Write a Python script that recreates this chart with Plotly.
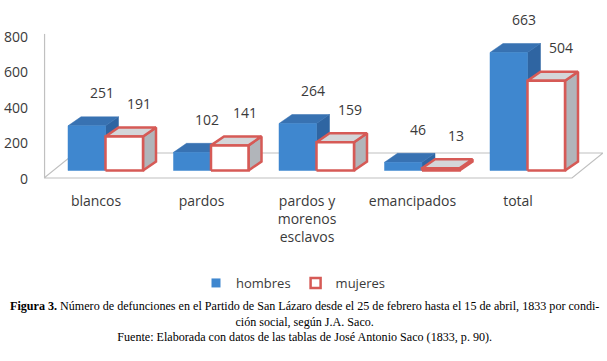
import plotly.graph_objects as go

# ---------------- data ----------------
categories = ["blancos", "pardos", "pardos y<br>morenos<br>esclavos", "emancipados", "total"]
hombres = [251, 102, 264, 46, 663]
mujeres = [191, 141, 159, 13, 504]
y_ticks = [0, 200, 400, 600, 800]
series_names = ["hombres", "mujeres"]

# ---------------- geometry / style ----------------
W, H = 607, 361
ML, MR, MT, MB = 44, 4, 0, 179
PX_X = 105.5           # px per category
PX_Y = 0.178           # px per value unit
X0_PX = 96 - ML        # px of first category from plot left
plot_w = W - ML - MR
plot_h = H - MT - MB
x_rng = [-X0_PX / PX_X, (plot_w - X0_PX) / PX_X]
y_rng = [-3 / PX_Y, (plot_h - 3) / PX_Y]

# bar plane (3D depth) offsets
PLANE_DX = 9.5 / PX_X
PLANE_DY = 8.5 / PX_Y
x2_rng = [x_rng[0] - PLANE_DX, x_rng[1] - PLANE_DX]
y2_rng = [y_rng[0] - PLANE_DY, y_rng[1] - PLANE_DY]

BAR_W = 37.5 / PX_X
DX = 13 / PX_X
DY = 9 / PX_Y

BLUE_FRONT = "#3f87cf"
BLUE_TOP = "#3872b2"
BLUE_SIDE = "#2f65a2"
RED = "#d65a56"
RED_TOP = "#d4d6d9"
RED_SIDE = "#b1b5ba"
TXT = "#3a3a3a"
FONT = "Open Sans"


def faces(values, left_off):
    fx, fy, tx, ty, sx, sy = [], [], [], [], [], []
    for i, v in enumerate(values):
        a = i + left_off
        b = a + BAR_W
        fx += [a, b, b, a, a, None]
        fy += [0, 0, v, v, 0, None]
        tx += [a, b, b + DX, a + DX, a, None]
        ty += [v, v, v + DY, v + DY, v, None]
        sx += [b, b + DX, b + DX, b, b, None]
        sy += [0, DY, v + DY, v, 0, None]
    return (fx, fy), (tx, ty), (sx, sy)


fig = go.Figure()

specs = [
    (hombres, -BAR_W, BLUE_FRONT, BLUE_TOP, BLUE_SIDE, None),
    (mujeres, 0.0, "white", RED_TOP, RED_SIDE, RED),
]
for vals, off, cf, ct, cs, lc in specs:
    front, top, side = faces(vals, off)
    for (xs, ys), col in ((side, cs), (top, ct), (front, cf)):
        fig.add_trace(go.Scatter(
            x=xs, y=ys, xaxis="x2", yaxis="y2", mode="lines", fill="toself",
            fillcolor=col,
            line=dict(color=lc if lc else col, width=2.5 if lc else 0.5),
            hoverinfo="skip", showlegend=False))

# data labels
for vals, off in ((hombres, -BAR_W), (mujeres, 0.0)):
    for i, v in enumerate(vals):
        fig.add_annotation(x=i + off + BAR_W / 2, y=v, xref="x2", yref="y2",
                           text=str(v), showarrow=False, xshift=15, yshift=33,
                           font=dict(family=FONT, size=14, color=TXT))

# legend entries
fig.add_trace(go.Scatter(x=[None], y=[None], mode="markers", name=series_names[0],
                         marker=dict(symbol="square", size=9, color=BLUE_FRONT)))
fig.add_trace(go.Scatter(x=[None], y=[None], mode="markers", name=series_names[1],
                         marker=dict(symbol="square", size=10, color="white",
                                     line=dict(color=RED, width=2.5))))

# floor and vertical axis line
FLOOR_FRONT = 1 / PX_Y
FLOOR_BACK = 26 / PX_Y
FLOOR_DX = 31 / PX_X
x_front_right = (572 - 96) / PX_X
grid = "#c0c0c0"
floor_x = [x_rng[0], x_front_right, x_front_right + FLOOR_DX, x_rng[0] + FLOOR_DX, x_rng[0]]
floor_y = [FLOOR_FRONT, FLOOR_FRONT, FLOOR_BACK, FLOOR_BACK, FLOOR_FRONT]
path = "M " + " L ".join(f"{a},{b}" for a, b in zip(floor_x, floor_y))
fig.add_shape(type="path", path=path, xref="x", yref="y",
              line=dict(color=grid, width=1.2), layer="below")
fig.add_shape(type="line", xref="paper", yref="y", x0=0.001, x1=0.001,
              y0=FLOOR_FRONT, y1=815, line=dict(color=grid, width=1.2), layer="below")

caption = ("<b>Figura 3.</b> Número de defunciones en el Partido de San Lázaro desde el 25 de "
           "febrero hasta el 15 de abril, 1833 por condi-<br>ción social, según J.A. Saco."
           "<br>Fuente: Elaborada con datos de las tablas de José Antonio Saco (1833, p. 90).")
fig.add_annotation(text=caption, xref="paper", yref="paper",
                   x=(304 - ML) / plot_w, y=(plot_h - 321) / plot_h,
                   xanchor="center", yanchor="middle", showarrow=False, align="center",
                   font=dict(family="Liberation Serif", size=12.1, color="black"))

fig.update_layout(
    width=W, height=H, margin=dict(l=ML, r=MR, t=MT, b=MB),
    paper_bgcolor="white", plot_bgcolor="white",
    font=dict(family=FONT, size=14, color=TXT),
    xaxis=dict(range=x_rng, tickvals=list(range(len(categories))), ticktext=categories,
               showgrid=False, zeroline=False, showline=False, ticks="",
               ticklabelstandoff=9, tickfont=dict(family=FONT, size=14, color=TXT)),
    yaxis=dict(range=y_rng, tickvals=y_ticks, showgrid=False, zeroline=False,
               showline=False, ticks="", ticklabelstandoff=15,
               tickfont=dict(family=FONT, size=14, color=TXT)),
    xaxis2=dict(range=x2_rng, overlaying="x", visible=False),
    yaxis2=dict(range=y2_rng, overlaying="y", visible=False),
    showlegend=True,
    legend=dict(orientation="h", x=(293 - ML) / plot_w, y=(plot_h - 283) / plot_h,
                xanchor="center", yanchor="middle", font=dict(family=FONT, size=13, color=TXT),
                itemwidth=30, tracegroupgap=0, bgcolor="rgba(0,0,0,0)"),
)

fig.write_html("out.html", config={"displayModeBar": False},
               post_script="document.body.style.margin='0px';")
